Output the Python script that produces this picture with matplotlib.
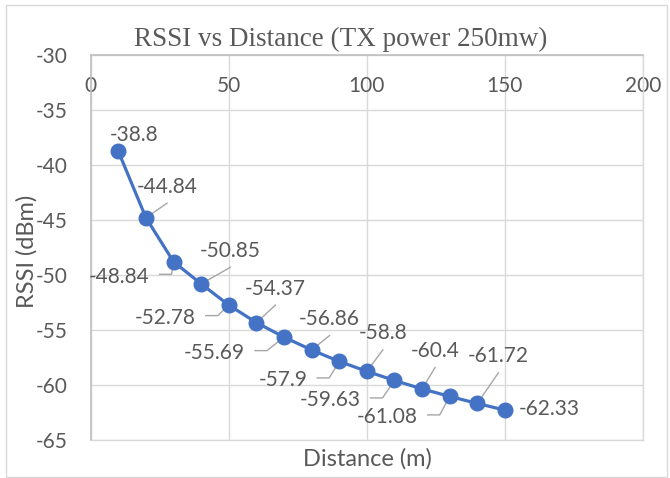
import matplotlib.pyplot as plt
import matplotlib.transforms as mtransforms
from matplotlib.patches import Rectangle

# data
distance = [10, 20, 30, 40, 50, 60, 70, 80, 90, 100, 110, 120, 130, 140, 150]
rssi = [-38.8, -44.84, -48.84, -50.85, -52.78, -54.37, -55.69, -56.86,
        -57.9, -58.8, -59.63, -60.4, -61.08, -61.72, -62.33]
x_ticks = [0, 50, 100, 150, 200]
y_ticks = [-30, -35, -40, -45, -50, -55, -60, -65]
title = 'RSSI vs Distance (TX power 250mw)'

# data label placement: kind, dx, dy in pixels from the point (y down)
# 'a' above with leader, 'l' left (dx = right edge) with leader,
# 'n' above without leader, 'r' right without leader
label_place = [('n', 16, -17), ('a', 21, -32), ('l', -24, 14), ('a', 29, -34),
               ('l', -33, 12), ('a', 19, -35), ('l', -39, 15), ('a', 18, -32),
               ('l', -32, 18), ('a', 16, -39), ('l', -34, 19), ('a', 13, -39),
               ('l', -32, 20), ('a', 21, -48), ('r', 14, -2)]

TXT = '#595959'
GRID = '#d9d9d9'
BLUE = '#4472C4'
LEAD = '#a6a6a6'

plt.rcParams['font.family'] = ['Lato', 'DejaVu Sans']
plt.rcParams['axes.unicode_minus'] = False

fig = plt.figure(figsize=(6.7, 4.78), dpi=100)
fig.patches.append(Rectangle((6 / 670, 1 / 478), 661 / 670, 472 / 478,
                             transform=fig.transFigure, fill=False,
                             ec=GRID, lw=1))
ax = fig.add_axes([0.1354, 0.0805, 0.8243, 0.8054])
ax.set_xlim(0, 200)
ax.set_ylim(-65, -30)
ax.set_xticks(x_ticks)
ax.set_yticks(y_ticks)
ax.grid(True, color=GRID, lw=1)
ax.set_axisbelow(True)
ax.autoscale(False)

for s in ['left', 'top']:
    ax.spines[s].set_color('#bfbfbf')
    ax.spines[s].set_linewidth(1.2)
for s in ['right', 'bottom']:
    ax.spines[s].set_color(GRID)
    ax.spines[s].set_linewidth(1)

ax.tick_params(axis='x', bottom=False, top=False, labelbottom=False,
               labeltop=True, length=0, pad=-30, labelsize=15, labelcolor=TXT)
ax.tick_params(axis='y', left=False, length=0, pad=16.5, labelsize=15,
               labelcolor=TXT)

ax.plot(distance, rssi, color=BLUE, lw=2.3, marker='o', ms=10.5,
        mec=BLUE, mfc=BLUE, zorder=4)

ident = mtransforms.IdentityTransform()
for x, y, (kind, dx, dy) in zip(distance, rssi, label_place):
    txt = str(y)
    ha = {'a': 'center', 'n': 'center', 'l': 'right', 'r': 'left'}[kind]
    ax.annotate(txt, xy=(x, y), xytext=(dx, -(dy + 7)),
                textcoords='offset pixels', ha=ha, va='baseline',
                fontsize=15, color=TXT, zorder=5)
    px, py = ax.transData.transform((x, y))
    if kind == 'a':
        ax.plot([px, px + dx], [py, py - (dy + 17.5)], color=LEAD, lw=1,
                transform=ident, zorder=3)
    elif kind == 'l':
        ly = py - (dy - 1.5)
        ax.plot([px + dx + 10, px + dx + 22, px], [ly, ly, py], color=LEAD,
                lw=1, transform=ident, zorder=3)

ax.set_xlabel('Distance (m)', fontsize=17, color=TXT, va='center')
ax.xaxis.set_label_coords(0.5003, -0.0506)
ax.set_ylabel('RSSI (dBm)', fontsize=17, color=TXT, va='center')
ax.yaxis.set_label_coords(-0.1153, 0.488)

fig.text(340.5 / 670, 1 - 46 / 478, title, ha='center', va='baseline',
         family='Liberation Serif', fontsize=19.5, color=TXT)

fig.savefig('out.png', dpi=100)
